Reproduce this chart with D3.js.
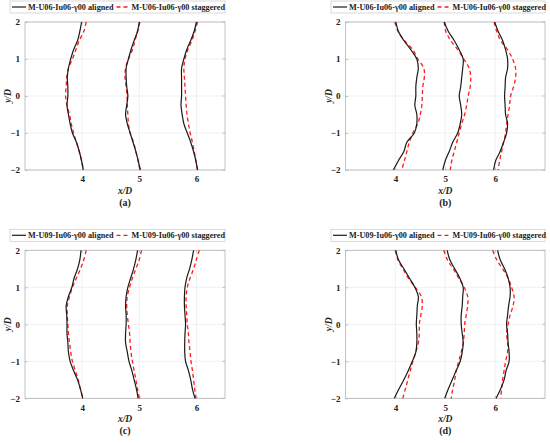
<!DOCTYPE html>
<html>
<head>
<meta charset="utf-8">
<script src="https://cdn.jsdelivr.net/npm/d3@7/dist/d3.min.js"></script>
<style>
  html, body { margin: 0; padding: 0; background: #fff; }
  svg { display: block; }
  text { font-family: "Liberation Serif", "Times New Roman", serif; font-weight: bold; fill: #222; }
</style>
</head>
<body>
<svg id="chart" width="550" height="443"></svg>
<script>
// ---------- data ----------
const yLevels = [2, 1.75, 1.5, 1.25, 1, 0.75, 0.5, 0.25, 0, -0.25, -0.5, -0.75, -1, -1.25, -1.5, -1.75, -2];
const yTicks = [-2, -1, 0, 1, 2];
const xTicks = [4, 5, 6];
const panelLabels = ["(a)", "(b)", "(c)", "(d)"];
const caseNames = ["M-U06-Iu06-γ00", "M-U06-Iu06-γ00", "M-U09-Iu06-γ00", "M-U09-Iu06-γ00"];
const seriesNames = ["aligned", "staggered"];
const xDomains = [[3, 6.5], [3, 7], [3, 6.5], [3, 7]];

// panel (a)
const aAligned = [
  [3.99, 3.96, 3.92, 3.85, 3.80, 3.76, 3.74, 3.75, 3.75, 3.735, 3.76, 3.79, 3.83, 3.90, 3.95, 3.99, 4.02],
  [5.00, 4.97, 4.91, 4.855, 4.81, 4.77, 4.77, 4.78, 4.80, 4.78, 4.76, 4.79, 4.84, 4.89, 4.94, 4.98, 5.02],
  [6.00, 5.96, 5.90, 5.83, 5.78, 5.74, 5.74, 5.74, 5.74, 5.73, 5.75, 5.78, 5.84, 5.90, 5.95, 5.99, 6.02]
];
const aStaggered = [
  [4.07, 4.03, 3.95, 3.89, 3.83, 3.76, 3.73, 3.72, 3.71, 3.735, 3.78, 3.81, 3.85, 3.90, 3.95, 3.99, 4.02],
  [5.01, 4.97, 4.925, 4.88, 4.81, 4.76, 4.75, 4.77, 4.785, 4.79, 4.80, 4.81, 4.84, 4.90, 4.94, 4.98, 5.01],
  [6.02, 5.975, 5.92, 5.85, 5.80, 5.78, 5.79, 5.80, 5.81, 5.82, 5.835, 5.86, 5.89, 5.93, 5.96, 5.99, 6.02]
];
// panel (b)
const bAligned = [
  [4.01, 4.06, 4.17, 4.31, 4.43, 4.46, 4.43, 4.41, 4.41, 4.39, 4.43, 4.43, 4.38, 4.23, 4.17, 4.06, 3.96],
  [4.98, 5.06, 5.18, 5.28, 5.36, 5.35, 5.33, 5.31, 5.28, 5.31, 5.33, 5.30, 5.25, 5.15, 5.08, 5.00, 4.95],
  [5.99, 6.06, 6.15, 6.21, 6.25, 6.25, 6.21, 6.20, 6.19, 6.20, 6.21, 6.25, 6.23, 6.17, 6.10, 6.01, 5.97]
];
const bStaggered = [
  [3.99, 4.05, 4.18, 4.35, 4.45, 4.57, 4.58, 4.55, 4.54, 4.53, 4.50, 4.45, 4.35, 4.28, 4.23, 4.18, 4.13],
  [4.98, 5.01, 5.11, 5.25, 5.37, 5.48, 5.51, 5.50, 5.46, 5.43, 5.39, 5.33, 5.28, 5.23, 5.18, 5.13, 5.10],
  [5.98, 6.03, 6.11, 6.25, 6.35, 6.41, 6.41, 6.37, 6.31, 6.29, 6.26, 6.23, 6.21, 6.17, 6.13, 6.09, 6.06]
];
// panel (c)
const cAligned = [
  [3.98, 3.96, 3.92, 3.86, 3.82, 3.76, 3.72, 3.73, 3.735, 3.735, 3.75, 3.76, 3.79, 3.85, 3.92, 3.97, 4.01],
  [4.97, 4.94, 4.90, 4.85, 4.80, 4.77, 4.76, 4.77, 4.77, 4.76, 4.76, 4.79, 4.82, 4.87, 4.91, 4.95, 4.98],
  [5.95, 5.92, 5.88, 5.83, 5.80, 5.79, 5.79, 5.80, 5.81, 5.80, 5.795, 5.795, 5.81, 5.86, 5.90, 5.93, 5.975]
];
const cStaggered = [
  [4.07, 4.03, 3.97, 3.90, 3.83, 3.78, 3.74, 3.74, 3.75, 3.76, 3.78, 3.80, 3.83, 3.88, 3.93, 3.97, 4.015],
  [5.04, 5.00, 4.94, 4.88, 4.83, 4.79, 4.78, 4.79, 4.81, 4.83, 4.84, 4.855, 4.88, 4.91, 4.94, 4.97, 5.00],
  [6.05, 6.00, 5.95, 5.89, 5.84, 5.82, 5.82, 5.83, 5.84, 5.86, 5.87, 5.89, 5.905, 5.93, 5.95, 5.97, 5.99]
];
// panel (d)
const dAligned = [
  [4.01, 4.06, 4.17, 4.28, 4.39, 4.46, 4.44, 4.43, 4.42, 4.43, 4.43, 4.41, 4.34, 4.26, 4.17, 4.07, 3.98],
  [5.04, 5.09, 5.19, 5.29, 5.36, 5.35, 5.34, 5.32, 5.32, 5.34, 5.36, 5.34, 5.30, 5.22, 5.14, 5.06, 4.99],
  [6.05, 6.10, 6.19, 6.26, 6.30, 6.30, 6.27, 6.25, 6.23, 6.25, 6.26, 6.28, 6.28, 6.22, 6.18, 6.11, 6.02]
];
const dStaggered = [
  [4.00, 4.05, 4.15, 4.26, 4.40, 4.52, 4.54, 4.51, 4.48, 4.48, 4.46, 4.41, 4.35, 4.30, 4.25, 4.20, 4.15],
  [4.97, 5.04, 5.16, 5.27, 5.38, 5.45, 5.45, 5.42, 5.39, 5.38, 5.36, 5.32, 5.27, 5.22, 5.19, 5.15, 5.12],
  [5.95, 6.03, 6.15, 6.26, 6.33, 6.38, 6.36, 6.30, 6.26, 6.23, 6.25, 6.25, 6.21, 6.18, 6.15, 6.13, 6.11]
];

const alignedSets = [aAligned, bAligned, cAligned, dAligned];
const staggeredSets = [aStaggered, bStaggered, cStaggered, dStaggered];

// ---------- layout ----------
const frames = [
  { left: 25, top: 22, width: 200, height: 148, legLeft: 10 },
  { left: 345.5, top: 22, width: 199.5, height: 148, legLeft: 331 },
  { left: 25, top: 250.3, width: 200, height: 148, legLeft: 10 },
  { left: 345.5, top: 250.3, width: 199.5, height: 148, legLeft: 331 }
];

const svg = d3.select("#chart");

frames.forEach((f, i) => {
  const x = d3.scaleLinear().domain(xDomains[i]).range([f.left, f.left + f.width]);
  const y = d3.scaleLinear().domain([-2, 2]).range([f.top + f.height, f.top]);
  const g = svg.append("g");

  // grid
  g.selectAll(".gx").data(xTicks).join("line")
    .attr("x1", d => x(d)).attr("x2", d => x(d))
    .attr("y1", f.top).attr("y2", f.top + f.height)
    .attr("stroke", "#e6e6e6").attr("stroke-width", 0.6);
  g.selectAll(".gy").data(yTicks).join("line")
    .attr("x1", f.left).attr("x2", f.left + f.width)
    .attr("y1", d => y(d)).attr("y2", d => y(d))
    .attr("stroke", "#e6e6e6").attr("stroke-width", 0.6);

  // axes (ticks inward, MATLAB-like)
  const xAxis = d3.axisBottom(x).tickValues(xTicks).tickSize(-2.5).tickPadding(6).tickFormat(d3.format("d"));
  const yAxis = d3.axisLeft(y).tickValues(yTicks).tickSize(-2.5).tickPadding(5)
    .tickFormat(d => d < 0 ? "\u2212" + Math.abs(d) : String(d));
  const gx = g.append("g").attr("transform", `translate(0,${f.top + f.height})`).call(xAxis);
  const gy = g.append("g").attr("transform", `translate(${f.left},0)`).call(yAxis);
  [gx, gy].forEach(a => {
    a.select(".domain").remove();
    a.selectAll(".tick line").attr("stroke", "#999").attr("stroke-width", 0.6);
    a.selectAll(".tick text").style("font-family", "'Liberation Serif', serif")
      .style("font-weight", "bold").style("font-size", "9px").attr("fill", "#262626");
  });
  // top/right ticks
  g.selectAll(".tt").data(xTicks).join("line")
    .attr("x1", d => x(d)).attr("x2", d => x(d))
    .attr("y1", f.top).attr("y2", f.top + 2.5).attr("stroke", "#999").attr("stroke-width", 0.6);
  g.selectAll(".rt").data(yTicks).join("line")
    .attr("x1", f.left + f.width).attr("x2", f.left + f.width - 2.5)
    .attr("y1", d => y(d)).attr("y2", d => y(d)).attr("stroke", "#999").attr("stroke-width", 0.6);

  // box
  g.append("rect").attr("x", f.left).attr("y", f.top).attr("width", f.width).attr("height", f.height)
    .attr("fill", "none").attr("stroke", "#b3b3b3").attr("stroke-width", 0.8);

  // lines
  const line = d3.line().x(d => x(d[0])).y(d => y(d[1])).curve(d3.curveCatmullRom.alpha(0.5));
  staggeredSets[i].forEach(arr => {
    g.append("path").datum(arr.map((v, k) => [v, yLevels[k]]))
      .attr("d", line).attr("fill", "none").attr("stroke", "#ff1a1a")
      .attr("stroke-width", 1.3).attr("stroke-dasharray", "4,3");
  });
  alignedSets[i].forEach(arr => {
    g.append("path").datum(arr.map((v, k) => [v, yLevels[k]]))
      .attr("d", line).attr("fill", "none").attr("stroke", "#1a1a1a")
      .attr("stroke-width", 1.2);
  });

  // axis labels
  g.append("text").attr("x", f.left + f.width / 2).attr("y", f.top + f.height + 24)
    .attr("text-anchor", "middle").style("font-size", "9.5px").style("font-style", "italic")
    .text("x/D");
  g.append("text").attr("transform", `translate(${f.left - 14},${f.top + f.height / 2}) rotate(-90)`)
    .attr("text-anchor", "middle").style("font-size", "9.5px").style("font-style", "italic")
    .text("y/D");
  // panel caption
  g.append("text").attr("x", f.left + f.width / 2).attr("y", f.top + f.height + 35.5)
    .attr("text-anchor", "middle").style("font-size", "10px").text(panelLabels[i]);

  // legend
  const lt = f.top - 21;
  const lg = g.append("g");
  lg.append("rect").attr("x", f.legLeft).attr("y", lt).attr("width", f.left + f.width - f.legLeft).attr("height", 12)
    .attr("fill", "#fff").attr("stroke", "#c8c8c8").attr("stroke-width", 0.7);
  const ly = lt + 6;
  lg.append("line").attr("x1", f.legLeft + 2).attr("x2", f.legLeft + 16).attr("y1", ly).attr("y2", ly)
    .attr("stroke", "#1a1a1a").attr("stroke-width", 1.2);
  const t1 = lg.append("text").attr("x", f.legLeft + 18).attr("y", ly + 2.8)
    .style("font-size", "8.2px").text(caseNames[i] + " " + seriesNames[0]);
  const w1 = t1.node().getComputedTextLength();
  const sx = f.legLeft + 18 + w1 + 3;
  lg.append("line").attr("x1", sx).attr("x2", sx + 13).attr("y1", ly).attr("y2", ly)
    .attr("stroke", "#ff1a1a").attr("stroke-width", 1.3).attr("stroke-dasharray", "4,3");
  lg.append("text").attr("x", sx + 15).attr("y", ly + 2.8)
    .style("font-size", "8.2px").text(caseNames[i] + " " + seriesNames[1]);
});
</script>
</body>
</html>
